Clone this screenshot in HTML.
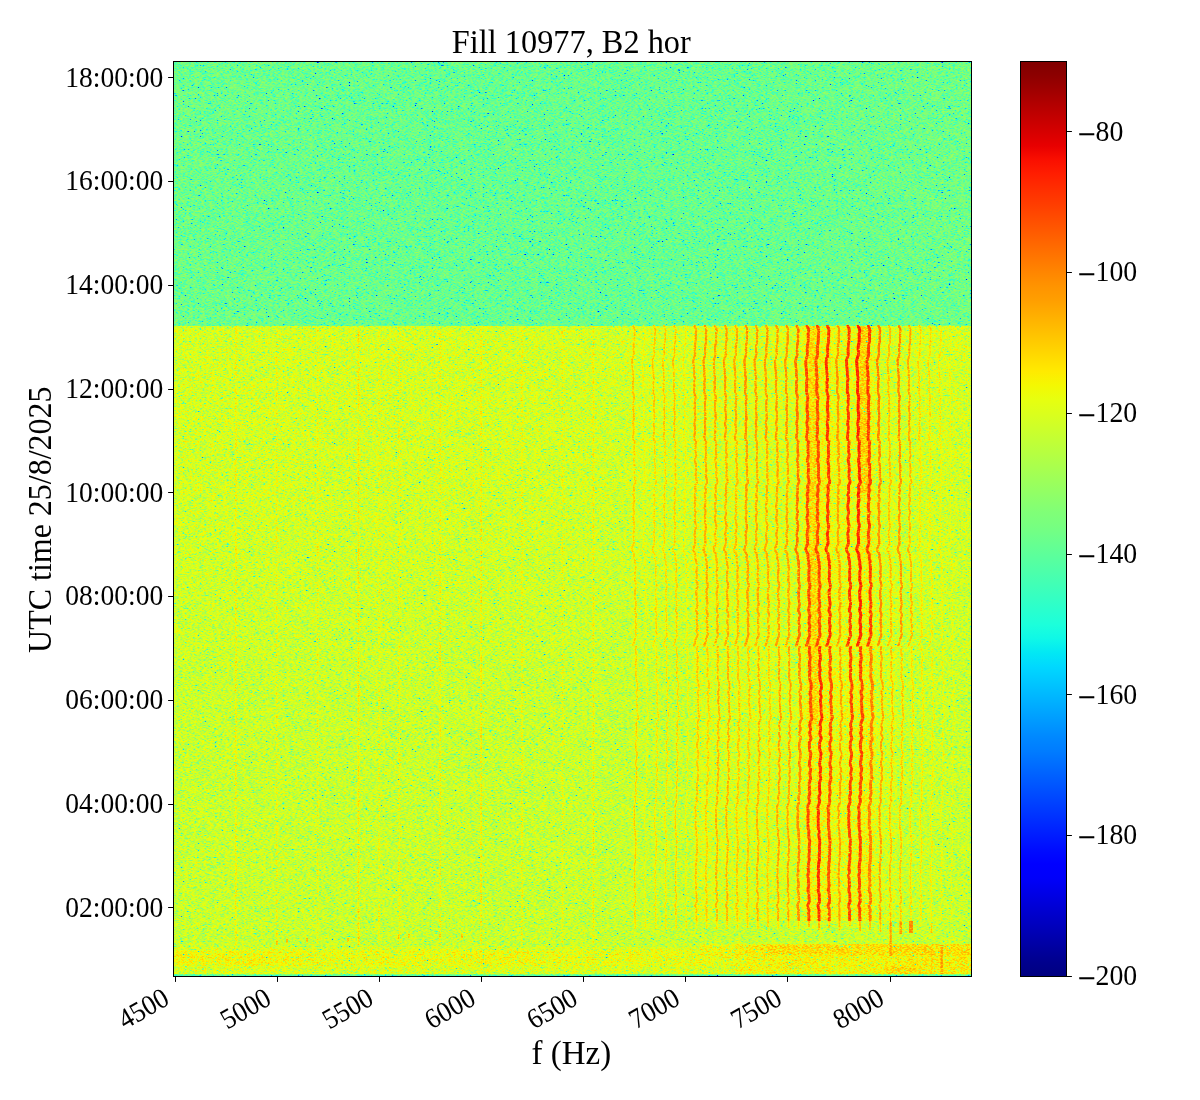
<!DOCTYPE html>
<html><head><meta charset="utf-8"><title>Fill 10977, B2 hor</title>
<style>html,body{margin:0;padding:0;background:#fff}svg{display:block}text{font-family:"Liberation Serif","Times New Roman",serif;fill:#000}</style></head><body>
<svg width="1200" height="1100" viewBox="0 0 1200 1100">
<defs>
<filter id="sp" x="173" y="61" width="799" height="916" filterUnits="userSpaceOnUse" color-interpolation-filters="sRGB">
<feTurbulence type="fractalNoise" baseFrequency="0.47 2.37" numOctaves="1" seed="3" result="na"/>
<feTurbulence type="fractalNoise" baseFrequency="0.41 3.61" numOctaves="1" seed="11" result="nb"/>
<feComposite in="na" in2="nb" operator="arithmetic" k1="0" k2="0.5" k3="0.5" k4="0" result="n"/>
<feColorMatrix in="n" type="matrix" values="1 0 0 0 0 1 0 0 0 0 1 0 0 0 0 0 0 0 0 1" result="n1"/>
<feComponentTransfer in="n1" result="n2"><feFuncR type="table" tableValues="0 0 0 0 0 0 0 0 0 0 0 0 0 0 0 0 0 0 0 0 0 0 0 0 0 0 0 0 0 0 0 0 0.025 0.073 0.119 0.163 0.204 0.243 0.28 0.314 0.347 0.378 0.407 0.434 0.459 0.482 0.504 0.522 0.535 0.548 0.56 0.571 0.583 0.594 0.604 0.614 0.624 0.634 0.643 0.652 0.661 0.669 0.677 0.685 0.692 0.699 0.705 0.71 0.716 0.722 0.727 0.732 0.737 0.742 0.747 0.751 0.756 0.76 0.765 0.769 0.773 0.777 0.781 0.784 0.788 0.792 0.795 0.799 0.802 0.805 0.809 0.812 0.815 0.818 0.821 0.824 0.827 0.829 0.832 0.835 0.837 0.84 0.843 0.845 0.848 0.85 0.852 0.855 0.857 0.859 0.861 0.864 0.866 0.868 0.87 0.871 0.871 0.871 0.871 0.871 0.871 0.871 0.871 0.871 0.871 0.871 0.871 0.871 0.871"/><feFuncG type="table" tableValues="0 0 0 0 0 0 0 0 0 0 0 0 0 0 0 0 0 0 0 0 0 0 0 0 0 0 0 0 0 0 0 0 0.025 0.073 0.119 0.163 0.204 0.243 0.28 0.314 0.347 0.378 0.407 0.434 0.459 0.482 0.504 0.522 0.535 0.548 0.56 0.571 0.583 0.594 0.604 0.614 0.624 0.634 0.643 0.652 0.661 0.669 0.677 0.685 0.692 0.699 0.705 0.71 0.716 0.722 0.727 0.732 0.737 0.742 0.747 0.751 0.756 0.76 0.765 0.769 0.773 0.777 0.781 0.784 0.788 0.792 0.795 0.799 0.802 0.805 0.809 0.812 0.815 0.818 0.821 0.824 0.827 0.829 0.832 0.835 0.837 0.84 0.843 0.845 0.848 0.85 0.852 0.855 0.857 0.859 0.861 0.864 0.866 0.868 0.87 0.871 0.871 0.871 0.871 0.871 0.871 0.871 0.871 0.871 0.871 0.871 0.871 0.871 0.871"/><feFuncB type="table" tableValues="0 0 0 0 0 0 0 0 0 0 0 0 0 0 0 0 0 0 0 0 0 0 0 0 0 0 0 0 0 0 0 0 0.025 0.073 0.119 0.163 0.204 0.243 0.28 0.314 0.347 0.378 0.407 0.434 0.459 0.482 0.504 0.522 0.535 0.548 0.56 0.571 0.583 0.594 0.604 0.614 0.624 0.634 0.643 0.652 0.661 0.669 0.677 0.685 0.692 0.699 0.705 0.71 0.716 0.722 0.727 0.732 0.737 0.742 0.747 0.751 0.756 0.76 0.765 0.769 0.773 0.777 0.781 0.784 0.788 0.792 0.795 0.799 0.802 0.805 0.809 0.812 0.815 0.818 0.821 0.824 0.827 0.829 0.832 0.835 0.837 0.84 0.843 0.845 0.848 0.85 0.852 0.855 0.857 0.859 0.861 0.864 0.866 0.868 0.87 0.871 0.871 0.871 0.871 0.871 0.871 0.871 0.871 0.871 0.871 0.871 0.871 0.871 0.871"/></feComponentTransfer>
<feColorMatrix in="SourceGraphic" type="matrix" values="1 0 0 0 0 1 0 0 0 0 1 0 0 0 0 0 0 0 0 1" result="cR"/>
<feColorMatrix in="SourceGraphic" type="matrix" values="0 1 0 0 0 0 1 0 0 0 0 1 0 0 0 0 0 0 0 1" result="cG"/>
<feComposite in="cR" in2="cG" operator="arithmetic" k1="0" k2="1" k3="-0.34615" k4="0" result="q"/>
<feComposite in="cG" in2="n2" operator="arithmetic" k1="0.50000" k2="0" k3="0" k4="0" result="p"/>
<feComposite in="q" in2="p" operator="arithmetic" k1="0" k2="1" k3="1" k4="0" result="v"/>
<feComponentTransfer in="v"><feFuncR type="table" tableValues="0 0 0 0 0 0 0 0 0 0 0 0 0 0 0 0 0 0 0 0 0 0 0 0 0 0 0 0 0 0 0 0 0 0 0 0 0 0 0 0 0 0 0 0 0 0 0.009 0.035 0.06 0.085 0.111 0.136 0.161 0.187 0.212 0.237 0.262 0.288 0.313 0.338 0.364 0.389 0.414 0.44 0.465 0.49 0.503 0.528 0.553 0.579 0.604 0.629 0.655 0.68 0.705 0.731 0.756 0.781 0.806 0.832 0.857 0.882 0.908 0.933 0.958 0.984 1 1 1 1 1 1 1 1 1 1 1 1 1 1 1 1 1 1 1 1 1 1 1 1 1 1 1 1 1 1 0.981 0.946 0.91 0.874 0.839 0.803 0.767 0.732 0.696 0.66 0.625 0.589 0.553 0.518 0.5"/><feFuncG type="table" tableValues="0 0 0 0 0 0 0 0 0 0 0 0 0 0 0 0 0 0.018 0.049 0.08 0.112 0.143 0.175 0.206 0.237 0.269 0.3 0.331 0.363 0.394 0.425 0.457 0.488 0.504 0.535 0.567 0.598 0.629 0.661 0.692 0.724 0.755 0.786 0.818 0.849 0.88 0.912 0.943 0.975 1 1 1 1 1 1 1 1 1 1 1 1 1 1 1 1 1 1 1 1 1 1 1 1 1 1 1 1 1 1 1 1 1 1 1 0.974 0.945 0.916 0.887 0.858 0.829 0.8 0.771 0.741 0.712 0.683 0.654 0.625 0.596 0.582 0.553 0.524 0.495 0.466 0.436 0.407 0.378 0.349 0.32 0.291 0.262 0.233 0.204 0.175 0.146 0.117 0.088 0.059 0.03 0.001 0 0 0 0 0 0 0 0 0 0 0 0"/><feFuncB type="table" tableValues="0.5 0.518 0.553 0.589 0.625 0.66 0.696 0.732 0.767 0.803 0.839 0.874 0.91 0.946 0.981 1 1 1 1 1 1 1 1 1 1 1 1 1 1 1 1 1 1 1 1 1 1 1 1 1 1 1 1 1 1 0.984 0.958 0.933 0.908 0.882 0.857 0.832 0.806 0.781 0.756 0.731 0.705 0.68 0.655 0.629 0.604 0.579 0.553 0.528 0.503 0.478 0.465 0.44 0.414 0.389 0.364 0.338 0.313 0.288 0.262 0.237 0.212 0.187 0.161 0.136 0.111 0.085 0.06 0.035 0.009 0 0 0 0 0 0 0 0 0 0 0 0 0 0 0 0 0 0 0 0 0 0 0 0 0 0 0 0 0 0 0 0 0 0 0 0 0 0 0 0 0 0 0 0 0 0"/><feFuncA type="linear" slope="0" intercept="1"/></feComponentTransfer>
</filter>
<linearGradient id="cb" x1="0" y1="0" x2="0" y2="1"><stop offset="0" stop-color="#800000"/><stop offset="0.01538" stop-color="#8d0000"/><stop offset="0.03077" stop-color="#9f0000"/><stop offset="0.04615" stop-color="#b20000"/><stop offset="0.06154" stop-color="#c40000"/><stop offset="0.07692" stop-color="#d60000"/><stop offset="0.09231" stop-color="#e80000"/><stop offset="0.1077" stop-color="#fa0f00"/><stop offset="0.1231" stop-color="#ff1e00"/><stop offset="0.1385" stop-color="#ff2d00"/><stop offset="0.1538" stop-color="#ff3b00"/><stop offset="0.1692" stop-color="#ff4a00"/><stop offset="0.1846" stop-color="#ff5900"/><stop offset="0.2" stop-color="#ff6800"/><stop offset="0.2154" stop-color="#ff7700"/><stop offset="0.2308" stop-color="#ff8600"/><stop offset="0.2462" stop-color="#ff9400"/><stop offset="0.2615" stop-color="#ff9f00"/><stop offset="0.2769" stop-color="#ffae00"/><stop offset="0.2923" stop-color="#ffbd00"/><stop offset="0.3077" stop-color="#ffcc00"/><stop offset="0.3231" stop-color="#ffdb00"/><stop offset="0.3385" stop-color="#ffea00"/><stop offset="0.3538" stop-color="#f4f802"/><stop offset="0.3692" stop-color="#e7ff0f"/><stop offset="0.3846" stop-color="#dbff1c"/><stop offset="0.4" stop-color="#ceff29"/><stop offset="0.4154" stop-color="#c1ff36"/><stop offset="0.4308" stop-color="#b4ff43"/><stop offset="0.4462" stop-color="#a7ff50"/><stop offset="0.4615" stop-color="#9aff5d"/><stop offset="0.4769" stop-color="#8dff6a"/><stop offset="0.4923" stop-color="#80ff77"/><stop offset="0.5077" stop-color="#77ff80"/><stop offset="0.5231" stop-color="#6aff8d"/><stop offset="0.5385" stop-color="#5dff9a"/><stop offset="0.5538" stop-color="#50ffa7"/><stop offset="0.5692" stop-color="#43ffb4"/><stop offset="0.5846" stop-color="#36ffc1"/><stop offset="0.6" stop-color="#29ffce"/><stop offset="0.6154" stop-color="#1cffdb"/><stop offset="0.6308" stop-color="#0ff8e7"/><stop offset="0.6462" stop-color="#02e8f4"/><stop offset="0.6615" stop-color="#00d8ff"/><stop offset="0.6769" stop-color="#00c8ff"/><stop offset="0.6923" stop-color="#00b8ff"/><stop offset="0.7077" stop-color="#00a8ff"/><stop offset="0.7231" stop-color="#0098ff"/><stop offset="0.7385" stop-color="#0088ff"/><stop offset="0.7538" stop-color="#007cff"/><stop offset="0.7692" stop-color="#006cff"/><stop offset="0.7846" stop-color="#005cff"/><stop offset="0.8" stop-color="#004cff"/><stop offset="0.8154" stop-color="#003cff"/><stop offset="0.8308" stop-color="#002cff"/><stop offset="0.8462" stop-color="#001cff"/><stop offset="0.8615" stop-color="#000cff"/><stop offset="0.8769" stop-color="#0000ff"/><stop offset="0.8923" stop-color="#0000fa"/><stop offset="0.9077" stop-color="#0000e8"/><stop offset="0.9231" stop-color="#0000d6"/><stop offset="0.9385" stop-color="#0000c4"/><stop offset="0.9538" stop-color="#0000b2"/><stop offset="0.9692" stop-color="#00009f"/><stop offset="0.9846" stop-color="#00008d"/><stop offset="1" stop-color="#000080"/></linearGradient>
<path id="wl" d="M-1.6 325.1L-1.6 326.0L-0.9 327.5L-0.2 329.0L0.0 330.5L-0.2 332.0L-0.5 333.5L-0.4 335.0L-0.3 336.5L-0.4 338.0L-0.4 339.5L-0.4 341.0L-0.6 342.5L-0.9 344.0L-1.2 345.5L-1.3 347.0L-1.4 348.5L-1.4 350.0L-1.3 351.5L-1.1 353.0L-1.2 354.5L-1.5 356.0L-2.0 357.5L-2.5 359.0L-2.9 360.5L-2.9 362.0L-2.8 363.5L-2.7 365.0L-2.6 366.5L-2.5 368.0L-2.3 369.5L-2.1 371.0L-2.0 372.5L-2.1 374.0L-2.0 375.5L-1.6 377.0L-1.4 378.5L-1.6 380.0L-2.0 381.5L-2.1 383.0L-2.0 384.5L-1.8 386.0L-1.8 387.5L-2.0 389.0L-2.1 390.5L-2.1 392.0L-1.7 393.5L-1.2 395.0L-0.8 396.5L-0.8 398.0L-1.0 399.5L-1.3 401.0L-1.4 402.5L-1.4 404.0L-1.3 405.5L-1.4 407.0L-1.6 408.5L-1.6 410.0L-1.3 411.5L-1.0 413.0L-1.0 414.5L-1.1 416.0L-0.9 417.5L-0.9 419.0L-1.3 420.5L-1.6 422.0L-1.8 423.5L-1.7 425.0L-1.3 426.5L-1.1 428.0L-1.2 429.5L-1.3 431.0L-1.4 432.5L-1.6 434.0L-1.8 435.5L-2.0 437.0L-1.8 438.5L-1.5 440.0L-1.5 440.9" fill="none"/>
<path id="wk" d="M-0.2 440.6L-0.2 441.5L-0.3 443.0L-0.5 444.5L-0.7 446.0L-0.7 447.5L-0.6 449.0L-0.7 450.5L-0.6 452.0L-0.4 453.5L-0.2 455.0L-0.3 456.5L-0.7 458.0L-1.2 459.5L-1.2 461.0L-0.8 462.5L-0.5 464.0L-0.4 465.5L-0.3 467.0L-0.2 468.5L-0.1 470.0L-0.2 471.5L-0.4 473.0L-0.5 474.5L-0.5 476.0L-0.3 477.5L0.1 479.0L0.6 480.5L0.7 482.0L0.2 483.5L-0.7 485.0L-1.1 486.5L-0.9 488.0L-0.7 489.5L-0.6 491.0L-0.9 492.5L-1.3 494.0L-1.5 495.5L-1.1 497.0L-0.7 498.5L-0.7 500.0L-0.9 501.5L-1.3 503.0L-1.5 504.5L-1.6 506.0L-1.6 507.5L-1.4 509.0L-1.0 510.5L-0.7 512.0L-0.9 513.5L-1.2 515.0L-1.5 516.5L-1.6 518.0L-1.5 519.5L-1.2 521.0L-1.0 522.5L-0.7 524.0L-0.3 525.5L-0.4 527.0L-0.7 528.5L-0.9 530.0L-1.2 531.5L-1.5 533.0L-1.7 534.5L-1.5 536.0L-1.2 537.5L-1.1 539.0L-1.0 540.5L-1.0 542.0L-1.0 543.5L-1.5 545.0L-2.2 546.5L-2.7 548.0L-2.9 549.5L-2.6 551.0L-1.6 552.5L-0.8 554.0L-0.6 555.5L-0.8 557.0L-0.6 558.5L-0.1 560.0L0.2 561.5L0.2 563.0L0.2 564.5L0.5 566.0L0.7 567.5L0.7 569.0L0.4 570.5L0.2 572.0L0.3 573.5L0.4 575.0L0.4 576.5L0.2 578.0L0.1 579.5L0.3 581.0L0.7 582.5L1.2 584.0L1.4 585.5L1.2 587.0L0.8 588.5L0.3 590.0L-0.0 591.5L0.1 593.0L0.3 594.5L0.3 596.0L0.2 597.5L0.3 599.0L0.7 600.5L1.0 602.0L1.1 603.5L1.1 605.0L0.9 606.5L0.4 608.0L-0.0 609.5L0.1 611.0L0.8 612.5L1.2 614.0L1.3 615.5L1.0 617.0L0.7 618.5L0.5 620.0L0.4 621.5L0.5 623.0L0.9 624.5L1.2 626.0L1.1 627.5L0.7 629.0L0.5 630.5L0.8 632.0L1.2 633.5L1.2 635.0L0.8 636.5L0.1 638.0L-0.5 639.5L-0.7 641.0L-1.0 642.5L-1.6 644.0L-2.2 645.5L-2.2 646.4" fill="none"/>
<path id="wm" d="M1.2 646.1L1.2 647.0L0.9 648.5L0.7 650.0L0.7 651.5L0.9 653.0L1.2 654.5L1.4 656.0L1.6 657.5L1.6 659.0L1.3 660.5L0.9 662.0L0.8 663.5L0.8 665.0L0.9 666.5L1.3 668.0L1.5 669.5L1.2 671.0L0.7 672.5L1.1 674.0L0.9 675.5L0.9 677.0L1.1 678.5L1.5 680.0L1.9 681.5L2.3 683.0L2.6 684.5L2.6 686.0L2.6 687.5L2.5 689.0L1.9 690.5L1.4 692.0L1.4 693.5L1.9 695.0L2.4 696.5L2.3 698.0L1.8 699.5L1.5 701.0L1.6 702.5L2.0 704.0L2.2 705.5L2.3 707.0L2.3 708.5L2.3 710.0L2.3 711.5L2.5 713.0L2.8 714.5L3.1 716.0L3.3 717.5L3.0 719.0L2.3 720.5L1.7 722.0L1.3 723.5L1.1 725.0L1.4 726.5L1.9 728.0L2.0 729.5L1.6 731.0L1.1 732.5L1.1 734.0L1.6 735.5L2.2 737.0L2.4 738.5L1.9 740.0L1.2 741.5L0.8 743.0L0.8 744.5L0.9 746.0L0.8 747.5L0.9 749.0L1.3 750.5L1.9 752.0L2.3 753.5L2.2 755.0L1.9 756.5L1.7 758.0L1.5 759.5L1.2 761.0L0.9 762.5L0.8 764.0L1.0 765.5L1.5 767.0L1.9 768.5L2.0 770.0L1.7 771.5L1.3 773.0L1.3 774.5L1.6 776.0L1.9 777.5L2.1 779.0L1.4 780.5L1.0 782.0L0.6 783.5L0.6 785.0L0.8 786.5L0.8 788.0L0.7 789.5L1.0 791.0L1.3 792.5L1.1 794.0L0.5 795.5L0.2 797.0L0.3 798.5L0.7 800.0L0.8 801.5L0.4 803.0L-0.1 804.5L-0.7 806.0L-1.0 807.5L-0.8 809.0L-0.5 810.5L-0.4 812.0L-0.3 813.5L-0.4 815.0L-0.7 816.5L-0.8 818.0L-0.6 819.5L-0.5 821.0L-0.5 822.5L-0.6 824.0L-0.6 825.5L-0.6 827.0L-0.4 828.5L0.1 830.0L0.3 831.5L0.2 833.0L0.1 834.5L0.2 836.0L0.4 837.5L0.8 839.0L1.0 840.5L1.1 842.0L1.0 843.5L0.8 845.0L0.6 846.5L0.6 848.0L0.8 849.5L0.9 851.0L0.8 852.5L0.5 854.0L0.3 855.5L0.4 857.0L0.6 858.5L0.6 860.0L0.3 861.5L-0.1 863.0L-0.2 864.5L-0.3 866.0L-0.5 867.5L-0.5 869.0L-0.1 870.5L-0.0 872.0L-0.4 873.5L-0.7 875.0L-0.7 876.5L-0.4 878.0L-0.2 879.5L-0.2 881.0L-0.1 882.5L0.1 884.0L0.1 885.5L-0.1 887.0L-0.5 888.5L-0.7 890.0L-0.4 891.5L0.2 893.0L0.5 894.5L0.4 896.0L0.4 897.5L0.5 899.0L0.7 900.5L0.5 902.0L-0.2 903.5L-0.8 905.0L-0.8 906.5L-0.3 908.0L0.3 909.5L0.4 911.0L0.1 912.5L-0.0 914.0L0.2 915.5L0.3 917.0L0.2 918.5L0.3 920.0L0.3 920.9" fill="none"/>
</defs>
<rect width="1200" height="1100" fill="#fff"/>
<g filter="url(#sp)">
<linearGradient id="tg" gradientUnits="userSpaceOnUse" x1="173.5" y1="0" x2="971.5" y2="0"><stop offset="0.000" stop-color="#7cff00"/><stop offset="0.350" stop-color="#7aff00"/><stop offset="0.700" stop-color="#7aff00"/><stop offset="1.000" stop-color="#7dff00"/></linearGradient>
<rect x="172.5" y="60.5" width="800.0" height="265.5" fill="url(#tg)"/>
<linearGradient id="bg" gradientUnits="userSpaceOnUse" x1="0" y1="326" x2="0" y2="976.5"><stop offset="0.000" stop-color="#9cff00"/><stop offset="0.250" stop-color="#9bff00"/><stop offset="0.600" stop-color="#98ff00"/><stop offset="1.000" stop-color="#98ff00"/></linearGradient>
<rect x="172.5" y="326.0" width="800.0" height="651.5" fill="url(#bg)"/>
<rect x="692.4" y="326.0" width="204.3" height="595.0" fill="#9cff00"/>
<rect x="802.7" y="326.0" width="73.5" height="595.0" fill="#a1ff00"/>
<rect x="806.8" y="326.0" width="24.5" height="595.0" fill="#a4ff00"/>
<rect x="857.9" y="326.0" width="14.3" height="595.0" fill="#a4ff00"/>
<rect x="808.9" y="326.0" width="9.2" height="400.0" fill="#acff00"/>
<rect x="859.9" y="326.0" width="9.2" height="167.0" fill="#afff00"/>
<rect x="172.5" y="947.0" width="800.0" height="27.6" fill="#9dff00"/>
<rect x="172.5" y="950.5" width="800.0" height="15.5" fill="#a1ff00"/>
<rect x="172.5" y="951.0" width="127.5" height="14.0" fill="#a3ff00"/>
<rect x="470.0" y="951.0" width="60.0" height="14.0" fill="#a3ff00"/>
<rect x="700.0" y="944.5" width="272.5" height="11.0" fill="#a3ff00"/>
<rect x="735.0" y="944.5" width="237.5" height="11.0" fill="#a7ff00"/>
<rect x="762.0" y="944.5" width="210.5" height="11.0" fill="#abff00"/>
<rect x="735.0" y="955.5" width="237.5" height="19.1" fill="#a4ff00"/>
<rect x="884.0" y="955.5" width="88.5" height="19.1" fill="#a7ff00"/>
<rect x="884.0" y="966.0" width="31.0" height="8.6" fill="#acff00"/>
<rect x="234.9" y="326.0" width="2.0" height="619.0" fill="#a3ff00"/>
<rect x="275.7" y="326.0" width="2.0" height="619.0" fill="#a2ff00"/>
<rect x="316.6" y="326.0" width="2.0" height="619.0" fill="#a1ff00"/>
<rect x="357.5" y="326.0" width="2.0" height="619.0" fill="#a7ff00"/>
<rect x="377.9" y="326.0" width="2.0" height="619.0" fill="#a0ff00"/>
<rect x="398.3" y="326.0" width="2.0" height="619.0" fill="#a2ff00"/>
<rect x="439.2" y="326.0" width="2.0" height="619.0" fill="#a4ff00"/>
<rect x="480.0" y="326.0" width="2.0" height="619.0" fill="#a4ff00"/>
<rect x="520.9" y="326.0" width="2.0" height="619.0" fill="#a1ff00"/>
<rect x="561.7" y="326.0" width="2.0" height="619.0" fill="#a1ff00"/>
<rect x="592.4" y="326.0" width="2.0" height="619.0" fill="#a4ff00"/>
<use href="#wl" x="634.9" stroke="#b18c00" stroke-width="2.2"/>
<use href="#wk" x="634.9" stroke="#ae8c00" stroke-width="2.2"/>
<use href="#wm" x="634.9" stroke="#ae8c00" stroke-width="1.9"/>
<use href="#wl" x="645.1" stroke="#a58c00" stroke-width="1.6"/>
<use href="#wk" x="645.1" stroke="#a48c00" stroke-width="1.6"/>
<use href="#wm" x="645.1" stroke="#a48c00" stroke-width="1.3"/>
<use href="#wl" x="655.4" stroke="#b18c00" stroke-width="2.0"/>
<use href="#wk" x="655.4" stroke="#ac8c00" stroke-width="2.0"/>
<use href="#wm" x="655.4" stroke="#aa8c00" stroke-width="1.7"/>
<use href="#wl" x="665.6" stroke="#b18c00" stroke-width="2.0"/>
<use href="#wk" x="665.6" stroke="#ac8c00" stroke-width="2.0"/>
<use href="#wm" x="665.6" stroke="#aa8c00" stroke-width="1.7"/>
<use href="#wl" x="675.8" stroke="#b18c00" stroke-width="2.0"/>
<use href="#wk" x="675.8" stroke="#ae8c00" stroke-width="2.0"/>
<use href="#wm" x="675.8" stroke="#ae8c00" stroke-width="1.7"/>
<use href="#wl" x="686.0" stroke="#a78c00" stroke-width="1.6"/>
<use href="#wk" x="686.0" stroke="#a68c00" stroke-width="1.6"/>
<use href="#wm" x="686.0" stroke="#a68c00" stroke-width="1.3"/>
<use href="#wl" x="696.2" stroke="#ba8c00" stroke-width="2.5"/>
<use href="#wk" x="696.2" stroke="#b58c00" stroke-width="2.5"/>
<use href="#wm" x="696.2" stroke="#b08c00" stroke-width="2.2"/>
<use href="#wl" x="706.4" stroke="#bc8c00" stroke-width="2.5"/>
<use href="#wk" x="706.4" stroke="#b78c00" stroke-width="2.5"/>
<use href="#wm" x="706.4" stroke="#ae8c00" stroke-width="2.2"/>
<use href="#wl" x="716.6" stroke="#ba8c00" stroke-width="2.5"/>
<use href="#wk" x="716.6" stroke="#b58c00" stroke-width="2.5"/>
<use href="#wm" x="716.6" stroke="#b58c00" stroke-width="2.2"/>
<use href="#wl" x="726.9" stroke="#bc8c00" stroke-width="2.5"/>
<use href="#wk" x="726.9" stroke="#b78c00" stroke-width="2.5"/>
<use href="#wm" x="726.9" stroke="#b58c00" stroke-width="2.2"/>
<use href="#wl" x="737.1" stroke="#b88c00" stroke-width="2.5"/>
<use href="#wk" x="737.1" stroke="#b38c00" stroke-width="2.5"/>
<use href="#wm" x="737.1" stroke="#b08c00" stroke-width="2.2"/>
<use href="#wl" x="747.3" stroke="#c08c00" stroke-width="2.6"/>
<use href="#wk" x="747.3" stroke="#bb8c00" stroke-width="2.6"/>
<use href="#wm" x="747.3" stroke="#b08c00" stroke-width="2.3"/>
<use href="#wl" x="757.5" stroke="#bc8c00" stroke-width="2.5"/>
<use href="#wk" x="757.5" stroke="#b78c00" stroke-width="2.5"/>
<use href="#wm" x="757.5" stroke="#b58c00" stroke-width="2.2"/>
<use href="#wl" x="767.7" stroke="#bc8c00" stroke-width="2.5"/>
<use href="#wk" x="767.7" stroke="#b78c00" stroke-width="2.5"/>
<use href="#wm" x="767.7" stroke="#ae8c00" stroke-width="2.2"/>
<use href="#wl" x="777.9" stroke="#bc8c00" stroke-width="2.5"/>
<use href="#wk" x="777.9" stroke="#b98c00" stroke-width="2.5"/>
<use href="#wm" x="777.9" stroke="#b98c00" stroke-width="2.2"/>
<use href="#wl" x="788.1" stroke="#be8c00" stroke-width="2.5"/>
<use href="#wk" x="788.1" stroke="#b98c00" stroke-width="2.5"/>
<use href="#wm" x="788.1" stroke="#b98c00" stroke-width="2.2"/>
<use href="#wl" x="798.4" stroke="#c88c00" stroke-width="2.8"/>
<use href="#wk" x="798.4" stroke="#c78c00" stroke-width="2.8"/>
<use href="#wm" x="798.4" stroke="#c08c00" stroke-width="2.8"/>
<use href="#wl" x="808.6" stroke="#d38c00" stroke-width="3.0"/>
<use href="#wk" x="808.6" stroke="#d28c00" stroke-width="3.0"/>
<use href="#wm" x="808.6" stroke="#d28c00" stroke-width="3.0"/>
<use href="#wl" x="818.8" stroke="#d28c00" stroke-width="3.0"/>
<use href="#wk" x="818.8" stroke="#d28c00" stroke-width="3.0"/>
<use href="#wm" x="818.8" stroke="#da8c00" stroke-width="3.0"/>
<use href="#wl" x="829.0" stroke="#d88c00" stroke-width="3.0"/>
<use href="#wk" x="829.0" stroke="#d78c00" stroke-width="3.0"/>
<use href="#wm" x="829.0" stroke="#d08c00" stroke-width="3.0"/>
<use href="#wl" x="839.2" stroke="#be8c00" stroke-width="2.5"/>
<use href="#wk" x="839.2" stroke="#ba8c00" stroke-width="2.5"/>
<use href="#wm" x="839.2" stroke="#ba8c00" stroke-width="2.2"/>
<use href="#wl" x="849.4" stroke="#d78c00" stroke-width="3.0"/>
<use href="#wk" x="849.4" stroke="#d68c00" stroke-width="3.0"/>
<use href="#wm" x="849.4" stroke="#d48c00" stroke-width="3.0"/>
<use href="#wl" x="859.6" stroke="#dd8c00" stroke-width="3.1"/>
<use href="#wk" x="859.6" stroke="#dc8c00" stroke-width="3.1"/>
<use href="#wm" x="859.6" stroke="#d48c00" stroke-width="3.1"/>
<use href="#wl" x="869.9" stroke="#d68c00" stroke-width="3.0"/>
<use href="#wk" x="869.9" stroke="#d58c00" stroke-width="3.0"/>
<use href="#wm" x="869.9" stroke="#c48c00" stroke-width="3.0"/>
<use href="#wl" x="880.1" stroke="#c58c00" stroke-width="2.6"/>
<use href="#wk" x="880.1" stroke="#c08c00" stroke-width="2.6"/>
<use href="#wm" x="880.1" stroke="#b98c00" stroke-width="2.3"/>
<use href="#wl" x="890.3" stroke="#b38c00" stroke-width="2.3"/>
<use href="#wk" x="890.3" stroke="#b28c00" stroke-width="2.3"/>
<use href="#wm" x="890.3" stroke="#b28c00" stroke-width="2.0"/>
<use href="#wl" x="900.5" stroke="#c28c00" stroke-width="2.5"/>
<use href="#wk" x="900.5" stroke="#bd8c00" stroke-width="2.5"/>
<use href="#wm" x="900.5" stroke="#b08c00" stroke-width="2.2"/>
<use href="#wl" x="910.7" stroke="#b98c00" stroke-width="2.3"/>
<use href="#wk" x="910.7" stroke="#b48c00" stroke-width="2.3"/>
<use href="#wm" x="910.7" stroke="#aa8c00" stroke-width="2.0"/>
<use href="#wl" x="920.9" stroke="#ad8c00" stroke-width="2.1"/>
<use href="#wk" x="920.9" stroke="#a88c00" stroke-width="2.1"/>
<use href="#wm" x="920.9" stroke="#a88c00" stroke-width="1.8"/>
<use href="#wl" x="931.1" stroke="#ab8c00" stroke-width="2.0"/>
<use href="#wk" x="931.1" stroke="#a68c00" stroke-width="2.0"/>
<use href="#wm" x="931.1" stroke="#a68c00" stroke-width="1.7"/>
<use href="#wl" x="941.4" stroke="#a98c00" stroke-width="1.8"/>
<use href="#wk" x="941.4" stroke="#a48c00" stroke-width="1.8"/>
<use href="#wm" x="941.4" stroke="#a48c00" stroke-width="1.5"/>
<use href="#wl" x="951.6" stroke="#a58c00" stroke-width="1.6"/>
<use href="#wk" x="951.6" stroke="#a28c00" stroke-width="1.6"/>
<use href="#wm" x="951.6" stroke="#a28c00" stroke-width="1.3"/>
<rect x="817.9" y="921.0" width="2.4" height="9.0" fill="#b48c00"/>
<rect x="838.4" y="921.0" width="2.2" height="9.0" fill="#b18c00"/>
<rect x="848.6" y="921.0" width="2.2" height="5.0" fill="#b18c00"/>
<rect x="858.7" y="921.0" width="2.4" height="10.0" fill="#b48c00"/>
<rect x="869.0" y="921.0" width="2.2" height="9.0" fill="#b18c00"/>
<rect x="879.3" y="921.0" width="2.2" height="11.0" fill="#b18c00"/>
<rect x="807.8" y="921.0" width="2.2" height="6.0" fill="#b18c00"/>
<rect x="828.2" y="921.0" width="2.2" height="7.0" fill="#b18c00"/>
<rect x="746.6" y="921.0" width="2.0" height="7.0" fill="#ad8c00"/>
<rect x="767.0" y="921.0" width="2.0" height="6.0" fill="#ad8c00"/>
<rect x="787.4" y="921.0" width="2.0" height="7.0" fill="#ad8c00"/>
<rect x="889.4" y="921.0" width="2.4" height="35.0" fill="#bc8c00"/>
<rect x="899.3" y="921.0" width="3.0" height="13.0" fill="#be8c00"/>
<rect x="909.0" y="921.0" width="4.0" height="12.0" fill="#c08c00"/>
<rect x="930.4" y="923.0" width="2.0" height="10.0" fill="#b18c00"/>
<rect x="940.4" y="945.0" width="2.4" height="29.0" fill="#bc8c00"/>
<rect x="930.4" y="950.0" width="2.0" height="24.0" fill="#af8c00"/>
<rect x="634.2" y="921.0" width="2.0" height="8.0" fill="#a88c00"/>
<rect x="644.4" y="921.0" width="2.0" height="8.0" fill="#a88c00"/>
<rect x="654.6" y="921.0" width="2.0" height="8.0" fill="#a88c00"/>
<rect x="664.9" y="921.0" width="2.0" height="8.0" fill="#a88c00"/>
<rect x="675.1" y="921.0" width="2.0" height="8.0" fill="#a88c00"/>
<rect x="685.3" y="921.0" width="2.0" height="8.0" fill="#a88c00"/>
<rect x="695.5" y="921.0" width="2.0" height="8.0" fill="#a88c00"/>
<rect x="705.7" y="921.0" width="2.0" height="8.0" fill="#a88c00"/>
<rect x="715.9" y="921.0" width="2.0" height="8.0" fill="#a88c00"/>
<rect x="726.1" y="921.0" width="2.0" height="8.0" fill="#a88c00"/>
<rect x="736.4" y="921.0" width="2.0" height="8.0" fill="#a88c00"/>
<rect x="756.8" y="921.0" width="2.0" height="8.0" fill="#a88c00"/>
<rect x="777.2" y="921.0" width="2.0" height="8.0" fill="#a88c00"/>
<rect x="797.6" y="921.0" width="2.0" height="8.0" fill="#a88c00"/>
<rect x="276.0" y="940.8" width="2.0" height="4.4" fill="#b18c00"/>
<rect x="286.0" y="938.8" width="2.0" height="4.4" fill="#b18c00"/>
<rect x="306.0" y="937.8" width="2.0" height="4.4" fill="#b18c00"/>
<rect x="347.0" y="937.8" width="2.0" height="4.4" fill="#b18c00"/>
<rect x="357.6" y="934.8" width="2.0" height="4.4" fill="#b18c00"/>
<rect x="397.7" y="934.8" width="2.0" height="4.4" fill="#b18c00"/>
<rect x="408.0" y="933.8" width="2.0" height="4.4" fill="#b18c00"/>
<rect x="439.0" y="932.8" width="2.0" height="4.4" fill="#b18c00"/>
<rect x="461.0" y="933.8" width="2.0" height="4.4" fill="#b18c00"/>
<rect x="172.5" y="974.4" width="800.0" height="3.1" fill="#71ff00"/>
</g>
<rect x="173.5" y="61.5" width="798" height="915" fill="none" stroke="#000" stroke-width="1"/>
<rect x="175" y="977" width="1" height="4.9" fill="#000"/>
<text transform="translate(171.0 1003.3) rotate(-30) scale(0.934 1)" font-size="28.4" text-anchor="end">4500</text>
<rect x="277" y="977" width="1" height="4.9" fill="#000"/>
<text transform="translate(273.1 1003.3) rotate(-30) scale(0.934 1)" font-size="28.4" text-anchor="end">5000</text>
<rect x="379" y="977" width="1" height="4.9" fill="#000"/>
<text transform="translate(375.3 1003.3) rotate(-30) scale(0.934 1)" font-size="28.4" text-anchor="end">5500</text>
<rect x="481" y="977" width="1" height="4.9" fill="#000"/>
<text transform="translate(477.4 1003.3) rotate(-30) scale(0.934 1)" font-size="28.4" text-anchor="end">6000</text>
<rect x="583" y="977" width="1" height="4.9" fill="#000"/>
<text transform="translate(579.6 1003.3) rotate(-30) scale(0.934 1)" font-size="28.4" text-anchor="end">6500</text>
<rect x="685" y="977" width="1" height="4.9" fill="#000"/>
<text transform="translate(681.7 1003.3) rotate(-30) scale(0.934 1)" font-size="28.4" text-anchor="end">7000</text>
<rect x="787" y="977" width="1" height="4.9" fill="#000"/>
<text transform="translate(783.8 1003.3) rotate(-30) scale(0.934 1)" font-size="28.4" text-anchor="end">7500</text>
<rect x="890" y="977" width="1" height="4.9" fill="#000"/>
<text transform="translate(886.0 1003.3) rotate(-30) scale(0.934 1)" font-size="28.4" text-anchor="end">8000</text>
<rect x="168.1" y="77" width="4.9" height="1" fill="#000"/>
<text transform="translate(163.2 86.6) scale(0.97 1)" font-size="28.4" text-anchor="end">18:00:00</text>
<rect x="168.1" y="181" width="4.9" height="1" fill="#000"/>
<text transform="translate(163.2 190.4) scale(0.97 1)" font-size="28.4" text-anchor="end">16:00:00</text>
<rect x="168.1" y="285" width="4.9" height="1" fill="#000"/>
<text transform="translate(163.2 294.1) scale(0.97 1)" font-size="28.4" text-anchor="end">14:00:00</text>
<rect x="168.1" y="389" width="4.9" height="1" fill="#000"/>
<text transform="translate(163.2 397.9) scale(0.97 1)" font-size="28.4" text-anchor="end">12:00:00</text>
<rect x="168.1" y="492" width="4.9" height="1" fill="#000"/>
<text transform="translate(163.2 501.6) scale(0.97 1)" font-size="28.4" text-anchor="end">10:00:00</text>
<rect x="168.1" y="596" width="4.9" height="1" fill="#000"/>
<text transform="translate(163.2 605.3) scale(0.97 1)" font-size="28.4" text-anchor="end">08:00:00</text>
<rect x="168.1" y="700" width="4.9" height="1" fill="#000"/>
<text transform="translate(163.2 709.1) scale(0.97 1)" font-size="28.4" text-anchor="end">06:00:00</text>
<rect x="168.1" y="804" width="4.9" height="1" fill="#000"/>
<text transform="translate(163.2 812.8) scale(0.97 1)" font-size="28.4" text-anchor="end">04:00:00</text>
<rect x="168.1" y="907" width="4.9" height="1" fill="#000"/>
<text transform="translate(163.2 916.6) scale(0.97 1)" font-size="28.4" text-anchor="end">02:00:00</text>
<rect x="1020.5" y="61.5" width="46" height="915" fill="url(#cb)" stroke="#000" stroke-width="1"/>
<rect x="1067" y="131" width="4.9" height="1" fill="#000"/>
<text transform="translate(1095.6 140.6) scale(0.978 1)" font-size="28.4"><tspan x="-18.2" dy="4" font-size="31.9" stroke="#000" stroke-width="0.5">−</tspan><tspan x="0" dy="-4">80</tspan></text>
<rect x="1067" y="272" width="4.9" height="1" fill="#000"/>
<text transform="translate(1095.6 281.4) scale(0.978 1)" font-size="28.4"><tspan x="-18.2" dy="4" font-size="31.9" stroke="#000" stroke-width="0.5">−</tspan><tspan x="0" dy="-4">100</tspan></text>
<rect x="1067" y="413" width="4.9" height="1" fill="#000"/>
<text transform="translate(1095.6 422.1) scale(0.978 1)" font-size="28.4"><tspan x="-18.2" dy="4" font-size="31.9" stroke="#000" stroke-width="0.5">−</tspan><tspan x="0" dy="-4">120</tspan></text>
<rect x="1067" y="554" width="4.9" height="1" fill="#000"/>
<text transform="translate(1095.6 562.9) scale(0.978 1)" font-size="28.4"><tspan x="-18.2" dy="4" font-size="31.9" stroke="#000" stroke-width="0.5">−</tspan><tspan x="0" dy="-4">140</tspan></text>
<rect x="1067" y="694" width="4.9" height="1" fill="#000"/>
<text transform="translate(1095.6 703.7) scale(0.978 1)" font-size="28.4"><tspan x="-18.2" dy="4" font-size="31.9" stroke="#000" stroke-width="0.5">−</tspan><tspan x="0" dy="-4">160</tspan></text>
<rect x="1067" y="835" width="4.9" height="1" fill="#000"/>
<text transform="translate(1095.6 844.4) scale(0.978 1)" font-size="28.4"><tspan x="-18.2" dy="4" font-size="31.9" stroke="#000" stroke-width="0.5">−</tspan><tspan x="0" dy="-4">180</tspan></text>
<rect x="1067" y="976" width="4.9" height="1" fill="#000"/>
<text transform="translate(1095.6 985.2) scale(0.978 1)" font-size="28.4"><tspan x="-18.2" dy="4" font-size="31.9" stroke="#000" stroke-width="0.5">−</tspan><tspan x="0" dy="-4">200</tspan></text>
<text transform="translate(571.3 52.8) scale(0.97 1)" font-size="33.33" text-anchor="middle">Fill 10977, B2 hor</text>
<text transform="translate(571.3 1064) scale(0.99 1)" font-size="33.33" text-anchor="middle">f (Hz)</text>
<text transform="translate(50.9 519.7) rotate(-90) scale(0.96 1)" font-size="33.33" text-anchor="middle">UTC time 25/8/2025</text>
</svg></body></html>
